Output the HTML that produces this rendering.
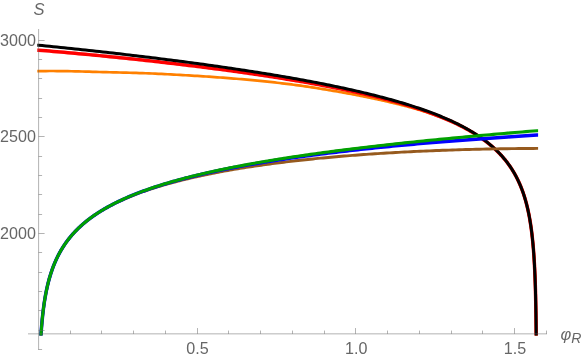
<!DOCTYPE html>
<html><head><meta charset="utf-8"><style>
html,body{margin:0;padding:0;background:#fff;overflow:hidden;}
svg{display:block;will-change:transform;opacity:0.999;position:absolute;left:0;top:0;font-family:"Liberation Sans",sans-serif;}
</style></head><body>
<svg width="581" height="359" viewBox="0 0 581 359">
<defs><clipPath id="c"><rect x="0" y="0" width="581" height="335.6"/></clipPath></defs>
<rect width="581" height="359" fill="#fff"/>
<path d="M37.30,71.09 L38.46,71.09 L42.20,71.06 L45.91,71.03 L49.61,71.02 L53.29,71.02 L56.95,71.04 L60.59,71.06 L64.22,71.10 L67.82,71.16 L71.41,71.23 L74.98,71.31 L78.53,71.40 L82.06,71.49 L85.57,71.59 L89.07,71.69 L92.55,71.79 L96.01,71.89 L99.45,71.99 L102.87,72.09 L106.28,72.17 L109.67,72.26 L113.04,72.34 L116.39,72.42 L119.72,72.50 L123.04,72.58 L126.34,72.67 L129.62,72.75 L132.88,72.84 L136.13,72.94 L139.36,73.04 L142.57,73.15 L145.77,73.26 L148.94,73.38 L152.10,73.51 L155.24,73.65 L158.37,73.79 L161.48,73.94 L164.57,74.09 L167.64,74.25 L170.70,74.41 L173.74,74.57 L176.76,74.74 L179.77,74.91 L182.76,75.08 L185.73,75.25 L188.69,75.43 L191.63,75.61 L194.55,75.78 L197.46,75.96 L200.35,76.15 L203.22,76.33 L206.08,76.51 L208.92,76.70 L211.74,76.89 L214.55,77.08 L217.34,77.28 L220.12,77.48 L222.88,77.68 L225.62,77.89 L228.35,78.10 L231.06,78.31 L233.75,78.53 L236.43,78.75 L239.10,78.98 L241.74,79.20 L244.38,79.44 L246.99,79.67 L249.59,79.91 L252.18,80.16 L254.75,80.40 L257.30,80.65 L259.84,80.90 L262.36,81.15 L264.87,81.40 L267.36,81.66 L269.84,81.92 L272.30,82.18 L274.75,82.45 L277.18,82.73 L279.60,83.00 L282.00,83.29 L284.38,83.57 L286.75,83.86 L289.11,84.16 L291.45,84.46 L293.78,84.76 L296.09,85.07 L298.39,85.38 L300.67,85.70 L302.94,86.03 L305.19,86.36 L307.43,86.69 L309.65,87.02 L311.86,87.36 L314.06,87.70 L316.24,88.04 L318.41,88.38 L320.56,88.73 L322.70,89.07 L324.82,89.42 L326.93,89.77 L329.03,90.12 L331.11,90.47 L333.18,90.82 L335.23,91.17 L337.27,91.53 L339.30,91.88 L341.31,92.23 L343.31,92.59 L345.29,92.94 L347.27,93.30 L349.22,93.66 L351.17,94.03 L353.10,94.39 L355.02,94.76 L356.92,95.13 L358.81,95.49 L360.69,95.86 L362.55,96.23 L364.40,96.61 L366.24,96.98 L368.07,97.36 L369.88,97.73 L371.67,98.11 L373.46,98.49 L375.23,98.87 L376.99,99.25 L378.74,99.63 L380.47,100.01 L382.19,100.39 L383.90,100.78 L385.60,101.17 L387.28,101.55 L388.95,101.94 L390.61,102.33 L392.26,102.72 L393.89,103.11 L395.51,103.50 L397.12,103.89 L398.72,104.29 L400.30,104.69 L401.87,105.09 L403.43,105.49 L404.98,105.89 L406.51,106.30 L408.04,106.71 L409.55,107.12 L411.05,107.53 L412.54,107.95 L414.01,108.37 L415.48,108.79 L416.93,109.21 L418.37,109.64 L419.80,110.07 L421.22,110.51 L422.62,110.95 L424.02,111.38 L425.40,111.82 L426.77,112.27 L428.13,112.71 L429.48,113.16 L430.82,113.61 L432.15,114.06 L433.46,114.52 L434.77,114.98 L436.06,115.44 L437.34,115.91 L438.62,116.38 L439.88,116.85 L441.13,117.33 L442.37,117.81 L443.59,118.29 L444.81,118.78 L446.02,119.27 L447.21,119.76 L448.40,120.26 L449.58,120.76 L450.74,121.26 L451.89,121.77 L453.04,122.28 L454.17,122.80 L455.29,123.31 L456.41,123.83 L457.51,124.36 L458.60,124.89 L459.68,125.42 L460.76,125.95 L461.82,126.49 L462.87,127.03 L463.91,127.57 L464.95,128.12 L465.97,128.67 L466.98,129.22 L467.98,129.78 L468.98,130.34 L469.96,130.90 L470.93,131.47 L471.90,132.04 L472.85,132.61 L473.80,133.18 L474.74,133.76 L475.66,134.34 L476.58,134.93 L477.49,135.52 L478.39,136.11 L479.28,136.70 L480.16,137.30 L481.03,137.90 L481.89,138.50 L482.75,139.11 L483.59,139.72 L484.43,140.33 L485.25,140.95 L486.07,141.57 L486.88,142.19 L487.68,142.82 L488.47,143.45 L489.26,144.09 L490.03,144.72 L490.80,145.36 L491.56,146.01 L492.31,146.66 L493.05,147.31 L493.78,147.97 L494.51,148.63 L495.22,149.29 L495.93,149.96 L496.63,150.63 L497.32,151.30 L498.01,151.98 L498.68,152.67 L499.35,153.35 L500.01,154.04 L500.66,154.74 L501.31,155.44 L501.94,156.14 L502.57,156.85 L503.19,157.57 L503.81,158.28 L504.41,159.01 L505.01,159.73 L505.60,160.46 L506.18,161.20 L506.76,161.94 L507.33,162.69 L507.89,163.44 L508.45,164.19 L508.99,164.95 L509.53,165.72 L510.06,166.49 L510.59,167.26 L511.11,168.04 L511.62,168.83 L512.13,169.62 L512.62,170.42 L513.12,171.22 L513.60,172.03 L514.08,172.84 L514.55,173.66 L515.01,174.48 L515.47,175.31 L515.92,176.15 L516.37,177.00 L516.80,177.84 L517.24,178.70 L517.66,179.56 L518.08,180.43 L518.49,181.31 L518.90,182.19 L519.30,183.08 L519.70,183.97 L520.08,184.87 L520.47,185.78 L520.84,186.70 L521.21,187.62 L521.58,188.56 L521.94,189.49 L522.29,190.44 L522.64,191.39 L522.98,192.36 L523.31,193.33 L523.65,194.31 L523.97,195.29 L524.29,196.29 L524.60,197.29 L524.91,198.30 L525.21,199.33 L525.51,200.36 L525.80,201.40 L526.09,202.45 L526.37,203.51 L526.65,204.57 L526.92,205.65 L527.19,206.74 L527.45,207.84 L527.71,208.95 L527.96,210.07 L528.21,211.20 L528.45,212.35 L528.69,213.50 L528.92,214.66 L529.15,215.84 L529.37,217.03 L529.59,218.23 L529.81,219.45 L530.02,220.67 L530.22,221.91 L530.42,223.17 L530.62,224.44 L530.81,225.72 L531.00,227.01 L531.18,228.32 L531.36,229.65 L531.54,230.99 L531.71,232.35 L531.88,233.72 L532.04,235.11 L532.20,236.51 L532.36,237.94 L532.51,239.38 L532.66,240.83 L532.81,242.31 L532.95,243.81 L533.09,245.32 L533.22,246.86 L533.35,248.42 L533.48,249.99 L533.60,251.59 L533.72,253.22 L533.84,254.86 L533.95,256.53 L534.06,258.22 L534.17,259.94 L534.27,261.68 L534.37,263.46 L534.47,265.25 L534.57,267.08 L534.66,268.94 L534.75,270.82 L534.83,272.74 L534.92,274.69 L535.00,276.67 L535.08,278.69 L535.15,280.74 L535.22,282.83 L535.29,284.96 L535.36,287.12 L535.43,289.33 L535.49,291.59 L535.55,293.88 L535.61,296.23 L535.66,298.62 L535.71,301.06 L535.76,303.55 L535.81,306.10 L535.86,308.71 L535.90,311.37 L535.95,314.10 L535.99,316.90 L536.03,319.76 L536.06,322.70 L536.10,325.71 L536.13,328.80 L536.16,331.98 L536.19,335.25 L536.22,338.61 L536.25,342.07 L536.27,345.64 L536.29,349.32 L536.32,353.12 L536.34,357.06 L536.36,361.13 L536.37,365.34 L536.39,369.72 L536.41,374.27 L536.42,379.00 L536.43,383.94 L536.44,389.09 L536.46,394.49 L536.47,400.00 L536.47,400.00 L536.48,400.00 L536.49,400.00 L536.50,400.00 L536.50,400.00 L536.51,400.00 L536.51,400.00 L536.51,400.00 L536.52,400.00 L536.52,400.00 L536.52,400.00 L536.52,400.00 L536.53,400.00 L536.53,400.00 L536.53,400.00 L536.53,400.00 L536.53,400.00 L536.53,400.00 L536.53,400.00 L536.53,400.00 L536.53,400.00 L536.53,400.00 L536.53,400.00 L536.53,400.00 L536.53,400.00 L536.53,400.00 L536.53,400.00 L536.53,400.00 L536.53,400.00 L536.53,400.00 L536.53,400.00 L536.53,400.00 L536.53,400.00 L536.53,400.00 L536.53,400.00 L536.53,400.00 L536.53,400.00 L536.53,400.00 L536.53,400.00" fill="none" stroke="#ff8000" stroke-width="2.7" stroke-linejoin="round" clip-path="url(#c)"/>
<path d="M37.30,50.19 L38.46,50.19 L42.20,50.49 L45.91,50.80 L49.61,51.11 L53.29,51.42 L56.95,51.73 L60.59,52.04 L64.22,52.36 L67.82,52.68 L71.41,53.00 L74.98,53.32 L78.53,53.65 L82.06,53.98 L85.57,54.30 L89.07,54.63 L92.55,54.97 L96.01,55.30 L99.45,55.63 L102.87,55.97 L106.28,56.30 L109.67,56.64 L113.04,56.98 L116.39,57.32 L119.72,57.66 L123.04,58.01 L126.34,58.35 L129.62,58.69 L132.88,59.04 L136.13,59.38 L139.36,59.73 L142.57,60.08 L145.77,60.43 L148.94,60.78 L152.10,61.13 L155.24,61.48 L158.37,61.83 L161.48,62.19 L164.57,62.54 L167.64,62.89 L170.70,63.25 L173.74,63.61 L176.76,63.96 L179.77,64.32 L182.76,64.68 L185.73,65.04 L188.69,65.39 L191.63,65.75 L194.55,66.12 L197.46,66.48 L200.35,66.84 L203.22,67.20 L206.08,67.56 L208.92,67.93 L211.74,68.29 L214.55,68.66 L217.34,69.02 L220.12,69.39 L222.88,69.76 L225.62,70.12 L228.35,70.49 L231.06,70.86 L233.75,71.23 L236.43,71.60 L239.10,71.97 L241.74,72.34 L244.38,72.72 L246.99,73.09 L249.59,73.46 L252.18,73.84 L254.75,74.21 L257.30,74.59 L259.84,74.96 L262.36,75.34 L264.87,75.72 L267.36,76.10 L269.84,76.48 L272.30,76.86 L274.75,77.24 L277.18,77.62 L279.60,78.00 L282.00,78.38 L284.38,78.77 L286.75,79.15 L289.11,79.54 L291.45,79.92 L293.78,80.31 L296.09,80.70 L298.39,81.08 L300.67,81.47 L302.94,81.86 L305.19,82.26 L307.43,82.65 L309.65,83.04 L311.86,83.43 L314.06,83.83 L316.24,84.22 L318.41,84.62 L320.56,85.02 L322.70,85.42 L324.82,85.82 L326.93,86.22 L329.03,86.62 L331.11,87.02 L333.18,87.42 L335.23,87.83 L337.27,88.23 L339.30,88.64 L341.31,89.05 L343.31,89.46 L345.29,89.87 L347.27,90.28 L349.22,90.69 L351.17,91.10 L353.10,91.52 L355.02,91.93 L356.92,92.35 L358.81,92.77 L360.69,93.19 L362.55,93.61 L364.40,94.03 L366.24,94.45 L368.07,94.87 L369.88,95.30 L371.67,95.73 L373.46,96.15 L375.23,96.58 L376.99,97.01 L378.74,97.44 L380.47,97.88 L382.19,98.31 L383.90,98.75 L385.60,99.19 L387.28,99.62 L388.95,100.06 L390.61,100.51 L392.26,100.95 L393.89,101.39 L395.51,101.84 L397.12,102.29 L398.72,102.74 L400.30,103.19 L401.87,103.64 L403.43,104.09 L404.98,104.55 L406.51,105.01 L408.04,105.46 L409.55,105.92 L411.05,106.39 L412.54,106.85 L414.01,107.32 L415.48,107.78 L416.93,108.25 L418.37,108.72 L419.80,109.19 L421.22,109.67 L422.62,110.14 L424.02,110.62 L425.40,111.10 L426.77,111.58 L428.13,112.07 L429.48,112.55 L430.82,113.04 L432.15,113.53 L433.46,114.02 L434.77,114.51 L436.06,115.01 L437.34,115.51 L438.62,116.00 L439.88,116.51 L441.13,117.01 L442.37,117.51 L443.59,118.02 L444.81,118.53 L446.02,119.04 L447.21,119.56 L448.40,120.07 L449.58,120.59 L450.74,121.11 L451.89,121.64 L453.04,122.16 L454.17,122.69 L455.29,123.22 L456.41,123.75 L457.51,124.29 L458.60,124.83 L459.68,125.37 L460.76,125.91 L461.82,126.45 L462.87,127.00 L463.91,127.55 L464.95,128.10 L465.97,128.66 L466.98,129.22 L467.98,129.78 L468.98,130.34 L469.96,130.91 L470.93,131.47 L471.90,132.05 L472.85,132.62 L473.80,133.20 L474.74,133.78 L475.66,134.36 L476.58,134.95 L477.49,135.54 L478.39,136.13 L479.28,136.72 L480.16,137.32 L481.03,137.92 L481.89,138.52 L482.75,139.13 L483.59,139.74 L484.43,140.36 L485.25,140.97 L486.07,141.59 L486.88,142.22 L487.68,142.84 L488.47,143.48 L489.26,144.11 L490.03,144.75 L490.80,145.39 L491.56,146.03 L492.31,146.68 L493.05,147.33 L493.78,147.99 L494.51,148.65 L495.22,149.31 L495.93,149.98 L496.63,150.65 L497.32,151.32 L498.01,152.00 L498.68,152.68 L499.35,153.37 L500.01,154.06 L500.66,154.76 L501.31,155.46 L501.94,156.16 L502.57,156.87 L503.19,157.58 L503.81,158.30 L504.41,159.02 L505.01,159.74 L505.60,160.47 L506.18,161.21 L506.76,161.95 L507.33,162.69 L507.89,163.44 L508.45,164.20 L508.99,164.95 L509.53,165.72 L510.06,166.49 L510.59,167.26 L511.11,168.04 L511.62,168.83 L512.13,169.62 L512.62,170.41 L513.12,171.21 L513.60,172.02 L514.08,172.83 L514.55,173.65 L515.01,174.48 L515.47,175.31 L515.92,176.14 L516.37,176.99 L516.80,177.83 L517.24,178.69 L517.66,179.55 L518.08,180.42 L518.49,181.29 L518.90,182.17 L519.30,183.06 L519.70,183.96 L520.08,184.86 L520.47,185.77 L520.84,186.68 L521.21,187.60 L521.58,188.54 L521.94,189.47 L522.29,190.42 L522.64,191.37 L522.98,192.33 L523.31,193.30 L523.65,194.28 L523.97,195.27 L524.29,196.26 L524.60,197.27 L524.91,198.28 L525.21,199.30 L525.51,200.33 L525.80,201.37 L526.09,202.42 L526.37,203.48 L526.65,204.55 L526.92,205.62 L527.19,206.71 L527.45,207.81 L527.71,208.92 L527.96,210.04 L528.21,211.17 L528.45,212.31 L528.69,213.47 L528.92,214.63 L529.15,215.81 L529.37,217.00 L529.59,218.20 L529.81,219.41 L530.02,220.64 L530.22,221.88 L530.42,223.13 L530.62,224.40 L530.81,225.68 L531.00,226.98 L531.18,228.29 L531.36,229.61 L531.54,230.95 L531.71,232.31 L531.88,233.68 L532.04,235.07 L532.20,236.47 L532.36,237.90 L532.51,239.34 L532.66,240.80 L532.81,242.27 L532.95,243.77 L533.09,245.28 L533.22,246.82 L533.35,248.38 L533.48,249.96 L533.60,251.55 L533.72,253.18 L533.84,254.82 L533.95,256.49 L534.06,258.18 L534.17,259.90 L534.27,261.64 L534.37,263.42 L534.47,265.21 L534.57,267.04 L534.66,268.89 L534.75,270.78 L534.83,272.70 L534.92,274.65 L535.00,276.63 L535.08,278.65 L535.15,280.70 L535.22,282.79 L535.29,284.92 L535.36,287.08 L535.43,289.29 L535.49,291.54 L535.55,293.84 L535.61,296.18 L535.66,298.58 L535.71,301.02 L535.76,303.51 L535.81,306.06 L535.86,308.67 L535.90,311.33 L535.95,314.06 L535.99,316.86 L536.03,319.72 L536.06,322.66 L536.10,325.67 L536.13,328.76 L536.16,331.94 L536.19,335.21 L536.22,338.57 L536.25,342.03 L536.27,345.60 L536.29,349.28 L536.32,353.08 L536.34,357.01 L536.36,361.08 L536.37,365.30 L536.39,369.68 L536.41,374.23 L536.42,378.96 L536.43,383.90 L536.44,389.05 L536.46,394.45 L536.47,400.00 L536.47,400.00 L536.48,400.00 L536.49,400.00 L536.50,400.00 L536.50,400.00 L536.51,400.00 L536.51,400.00 L536.51,400.00 L536.52,400.00 L536.52,400.00 L536.52,400.00 L536.52,400.00 L536.53,400.00 L536.53,400.00 L536.53,400.00 L536.53,400.00 L536.53,400.00 L536.53,400.00 L536.53,400.00 L536.53,400.00 L536.53,400.00 L536.53,400.00 L536.53,400.00 L536.53,400.00 L536.53,400.00 L536.53,400.00 L536.53,400.00 L536.53,400.00 L536.53,400.00 L536.53,400.00 L536.53,400.00 L536.53,400.00 L536.53,400.00 L536.53,400.00 L536.53,400.00 L536.53,400.00 L536.53,400.00 L536.53,400.00 L536.53,400.00" fill="none" stroke="#ff0000" stroke-width="3.5" stroke-linejoin="round" clip-path="url(#c)"/>
<path d="M37.30,45.19 L38.46,45.19 L42.20,45.56 L45.91,45.93 L49.61,46.30 L53.29,46.67 L56.95,47.04 L60.59,47.42 L64.22,47.79 L67.82,48.16 L71.41,48.54 L74.98,48.91 L78.53,49.29 L82.06,49.67 L85.57,50.04 L89.07,50.42 L92.55,50.80 L96.01,51.18 L99.45,51.56 L102.87,51.94 L106.28,52.32 L109.67,52.70 L113.04,53.08 L116.39,53.47 L119.72,53.85 L123.04,54.23 L126.34,54.62 L129.62,55.00 L132.88,55.39 L136.13,55.77 L139.36,56.16 L142.57,56.54 L145.77,56.93 L148.94,57.32 L152.10,57.70 L155.24,58.09 L158.37,58.48 L161.48,58.87 L164.57,59.26 L167.64,59.65 L170.70,60.04 L173.74,60.43 L176.76,60.82 L179.77,61.21 L182.76,61.60 L185.73,61.99 L188.69,62.38 L191.63,62.78 L194.55,63.17 L197.46,63.56 L200.35,63.95 L203.22,64.35 L206.08,64.74 L208.92,65.14 L211.74,65.53 L214.55,65.93 L217.34,66.32 L220.12,66.72 L222.88,67.12 L225.62,67.52 L228.35,67.91 L231.06,68.31 L233.75,68.71 L236.43,69.11 L239.10,69.51 L241.74,69.91 L244.38,70.31 L246.99,70.71 L249.59,71.11 L252.18,71.51 L254.75,71.91 L257.30,72.32 L259.84,72.72 L262.36,73.12 L264.87,73.53 L267.36,73.93 L269.84,74.34 L272.30,74.74 L274.75,75.15 L277.18,75.56 L279.60,75.96 L282.00,76.37 L284.38,76.78 L286.75,77.19 L289.11,77.60 L291.45,78.01 L293.78,78.42 L296.09,78.83 L298.39,79.24 L300.67,79.66 L302.94,80.07 L305.19,80.49 L307.43,80.90 L309.65,81.32 L311.86,81.73 L314.06,82.15 L316.24,82.57 L318.41,82.99 L320.56,83.40 L322.70,83.82 L324.82,84.25 L326.93,84.67 L329.03,85.09 L331.11,85.51 L333.18,85.94 L335.23,86.36 L337.27,86.79 L339.30,87.21 L341.31,87.64 L343.31,88.07 L345.29,88.50 L347.27,88.93 L349.22,89.36 L351.17,89.79 L353.10,90.23 L355.02,90.66 L356.92,91.09 L358.81,91.53 L360.69,91.97 L362.55,92.41 L364.40,92.84 L366.24,93.28 L368.07,93.73 L369.88,94.17 L371.67,94.61 L373.46,95.06 L375.23,95.50 L376.99,95.95 L378.74,96.40 L380.47,96.85 L382.19,97.30 L383.90,97.75 L385.60,98.20 L387.28,98.66 L388.95,99.11 L390.61,99.57 L392.26,100.03 L393.89,100.48 L395.51,100.95 L397.12,101.41 L398.72,101.87 L400.30,102.34 L401.87,102.80 L403.43,103.27 L404.98,103.74 L406.51,104.21 L408.04,104.68 L409.55,105.15 L411.05,105.63 L412.54,106.11 L414.01,106.58 L415.48,107.06 L416.93,107.55 L418.37,108.03 L419.80,108.51 L421.22,109.00 L422.62,109.49 L424.02,109.98 L425.40,110.47 L426.77,110.96 L428.13,111.45 L429.48,111.95 L430.82,112.45 L432.15,112.95 L433.46,113.45 L434.77,113.95 L436.06,114.46 L437.34,114.97 L438.62,115.48 L439.88,115.99 L441.13,116.50 L442.37,117.02 L443.59,117.53 L444.81,118.05 L446.02,118.57 L447.21,119.10 L448.40,119.62 L449.58,120.15 L450.74,120.68 L451.89,121.21 L453.04,121.75 L454.17,122.28 L455.29,122.82 L456.41,123.36 L457.51,123.91 L458.60,124.45 L459.68,125.00 L460.76,125.55 L461.82,126.10 L462.87,126.66 L463.91,127.21 L464.95,127.77 L465.97,128.34 L466.98,128.90 L467.98,129.47 L468.98,130.04 L469.96,130.61 L470.93,131.19 L471.90,131.76 L472.85,132.35 L473.80,132.93 L474.74,133.52 L475.66,134.10 L476.58,134.70 L477.49,135.29 L478.39,135.89 L479.28,136.49 L480.16,137.09 L481.03,137.70 L481.89,138.31 L482.75,138.92 L483.59,139.54 L484.43,140.16 L485.25,140.78 L486.07,141.40 L486.88,142.03 L487.68,142.67 L488.47,143.30 L489.26,143.94 L490.03,144.58 L490.80,145.23 L491.56,145.88 L492.31,146.53 L493.05,147.18 L493.78,147.84 L494.51,148.51 L495.22,149.17 L495.93,149.85 L496.63,150.52 L497.32,151.20 L498.01,151.88 L498.68,152.57 L499.35,153.26 L500.01,153.95 L500.66,154.65 L501.31,155.35 L501.94,156.06 L502.57,156.77 L503.19,157.49 L503.81,158.21 L504.41,158.93 L505.01,159.66 L505.60,160.39 L506.18,161.13 L506.76,161.87 L507.33,162.62 L507.89,163.37 L508.45,164.13 L508.99,164.89 L509.53,165.66 L510.06,166.43 L510.59,167.21 L511.11,167.99 L511.62,168.78 L512.13,169.57 L512.62,170.37 L513.12,171.17 L513.60,171.98 L514.08,172.80 L514.55,173.62 L515.01,174.44 L515.47,175.27 L515.92,176.11 L516.37,176.96 L516.80,177.81 L517.24,178.66 L517.66,179.53 L518.08,180.40 L518.49,181.27 L518.90,182.15 L519.30,183.04 L519.70,183.94 L520.08,184.84 L520.47,185.75 L520.84,186.67 L521.21,187.60 L521.58,188.53 L521.94,189.47 L522.29,190.41 L522.64,191.37 L522.98,192.33 L523.31,193.30 L523.65,194.28 L523.97,195.27 L524.29,196.27 L524.60,197.27 L524.91,198.28 L525.21,199.30 L525.51,200.34 L525.80,201.38 L526.09,202.43 L526.37,203.49 L526.65,204.55 L526.92,205.63 L527.19,206.72 L527.45,207.82 L527.71,208.93 L527.96,210.05 L528.21,211.18 L528.45,212.33 L528.69,213.48 L528.92,214.65 L529.15,215.83 L529.37,217.01 L529.59,218.22 L529.81,219.43 L530.02,220.66 L530.22,221.90 L530.42,223.15 L530.62,224.42 L530.81,225.70 L531.00,227.00 L531.18,228.31 L531.36,229.63 L531.54,230.97 L531.71,232.33 L531.88,233.70 L532.04,235.09 L532.20,236.50 L532.36,237.92 L532.51,239.36 L532.66,240.82 L532.81,242.30 L532.95,243.80 L533.09,245.31 L533.22,246.85 L533.35,248.40 L533.48,249.98 L533.60,251.58 L533.72,253.20 L533.84,254.85 L533.95,256.52 L534.06,258.21 L534.17,259.93 L534.27,261.67 L534.37,263.44 L534.47,265.24 L534.57,267.07 L534.66,268.92 L534.75,270.81 L534.83,272.73 L534.92,274.68 L535.00,276.66 L535.08,278.68 L535.15,280.73 L535.22,282.82 L535.29,284.95 L535.36,287.11 L535.43,289.32 L535.49,291.57 L535.55,293.87 L535.61,296.21 L535.66,298.61 L535.71,301.05 L535.76,303.54 L535.81,306.09 L535.86,308.70 L535.90,311.36 L535.95,314.09 L535.99,316.89 L536.03,319.75 L536.06,322.69 L536.10,325.70 L536.13,328.79 L536.16,331.97 L536.19,335.24 L536.22,338.60 L536.25,342.06 L536.27,345.63 L536.29,349.31 L536.32,353.11 L536.34,357.05 L536.36,361.12 L536.37,365.33 L536.39,369.71 L536.41,374.26 L536.42,378.99 L536.43,383.93 L536.44,389.08 L536.46,394.48 L536.47,400.00 L536.47,400.00 L536.48,400.00 L536.49,400.00 L536.50,400.00 L536.50,400.00 L536.51,400.00 L536.51,400.00 L536.51,400.00 L536.52,400.00 L536.52,400.00 L536.52,400.00 L536.52,400.00 L536.53,400.00 L536.53,400.00 L536.53,400.00 L536.53,400.00 L536.53,400.00 L536.53,400.00 L536.53,400.00 L536.53,400.00 L536.53,400.00 L536.53,400.00 L536.53,400.00 L536.53,400.00 L536.53,400.00 L536.53,400.00 L536.53,400.00 L536.53,400.00 L536.53,400.00 L536.53,400.00 L536.53,400.00 L536.53,400.00 L536.53,400.00 L536.53,400.00 L536.53,400.00 L536.53,400.00 L536.53,400.00 L536.53,400.00 L536.53,400.00" fill="none" stroke="#000000" stroke-width="3.0" stroke-linejoin="round" clip-path="url(#c)"/>
<path d="M38.46,400.00 L38.46,400.00 L38.46,400.00 L38.46,400.00 L38.46,400.00 L38.46,400.00 L38.46,400.00 L38.46,400.00 L38.46,400.00 L38.46,400.00 L38.46,400.00 L38.46,400.00 L38.46,400.00 L38.46,400.00 L38.46,400.00 L38.46,400.00 L38.46,400.00 L38.46,400.00 L38.46,400.00 L38.46,400.00 L38.46,400.00 L38.46,400.00 L38.46,400.00 L38.46,400.00 L38.46,400.00 L38.46,400.00 L38.46,400.00 L38.46,400.00 L38.47,400.00 L38.47,400.00 L38.47,400.00 L38.47,400.00 L38.48,400.00 L38.48,400.00 L38.49,400.00 L38.49,400.00 L38.50,400.00 L38.51,400.00 L38.51,400.00 L38.52,400.00 L38.53,400.00 L38.54,400.00 L38.56,400.00 L38.57,400.00 L38.58,400.00 L38.60,400.00 L38.61,400.00 L38.63,400.00 L38.65,400.00 L38.67,400.00 L38.69,400.00 L38.72,400.00 L38.74,400.00 L38.77,400.00 L38.80,400.00 L38.83,400.00 L38.86,400.00 L38.89,400.00 L38.93,400.00 L38.96,397.39 L39.00,394.53 L39.04,391.73 L39.08,389.00 L39.13,386.34 L39.18,383.73 L39.22,381.18 L39.27,378.69 L39.33,376.25 L39.38,373.85 L39.44,371.51 L39.50,369.21 L39.56,366.96 L39.63,364.75 L39.70,362.59 L39.77,360.46 L39.84,358.37 L39.91,356.32 L39.99,354.30 L40.07,352.32 L40.16,350.37 L40.24,348.45 L40.33,346.56 L40.42,344.71 L40.52,342.88 L40.62,341.08 L40.72,339.31 L40.82,337.57 L40.93,335.85 L41.04,334.16 L41.15,332.49 L41.27,330.84 L41.39,329.22 L41.51,327.62 L41.64,326.05 L41.77,324.49 L41.91,322.95 L42.04,321.44 L42.18,319.94 L42.33,318.46 L42.48,317.00 L42.63,315.56 L42.79,314.14 L42.95,312.73 L43.11,311.35 L43.28,309.97 L43.45,308.62 L43.63,307.28 L43.81,305.95 L43.99,304.64 L44.18,303.35 L44.37,302.06 L44.57,300.80 L44.77,299.54 L44.98,298.30 L45.19,297.08 L45.40,295.86 L45.62,294.66 L45.85,293.47 L46.08,292.29 L46.31,291.13 L46.55,289.97 L46.79,288.83 L47.04,287.70 L47.29,286.58 L47.55,285.47 L47.81,284.37 L48.08,283.28 L48.35,282.20 L48.62,281.14 L48.91,280.08 L49.19,279.03 L49.49,277.99 L49.79,276.96 L50.09,275.94 L50.40,274.92 L50.71,273.92 L51.03,272.92 L51.36,271.94 L51.69,270.96 L52.02,269.99 L52.36,269.03 L52.71,268.07 L53.07,267.13 L53.42,266.19 L53.79,265.26 L54.16,264.34 L54.54,263.42 L54.92,262.51 L55.31,261.61 L55.70,260.71 L56.11,259.83 L56.51,258.94 L56.93,258.07 L57.35,257.20 L57.77,256.34 L58.20,255.49 L58.64,254.64 L59.09,253.80 L59.54,252.96 L60.00,252.13 L60.46,251.30 L60.93,250.49 L61.41,249.67 L61.90,248.87 L62.39,248.07 L62.89,247.27 L63.39,246.48 L63.90,245.70 L64.42,244.92 L64.95,244.14 L65.48,243.37 L66.02,242.61 L66.57,241.85 L67.13,241.10 L67.69,240.35 L68.26,239.60 L68.83,238.87 L69.42,238.13 L70.01,237.40 L70.61,236.68 L71.22,235.96 L71.83,235.24 L72.45,234.53 L73.08,233.82 L73.72,233.12 L74.36,232.42 L75.02,231.73 L75.68,231.04 L76.35,230.36 L77.02,229.67 L77.71,229.00 L78.40,228.32 L79.10,227.66 L79.81,226.99 L80.53,226.33 L81.25,225.67 L81.98,225.02 L82.73,224.37 L83.48,223.73 L84.23,223.08 L85.00,222.45 L85.78,221.81 L86.56,221.18 L87.35,220.55 L88.16,219.93 L88.97,219.31 L89.79,218.69 L90.61,218.08 L91.45,217.47 L92.30,216.86 L93.15,216.26 L94.01,215.66 L94.89,215.07 L95.77,214.47 L96.66,213.88 L97.56,213.30 L98.47,212.71 L99.39,212.13 L100.31,211.56 L101.25,210.98 L102.20,210.41 L103.15,209.85 L104.12,209.28 L105.09,208.72 L106.08,208.16 L107.07,207.61 L108.08,207.05 L109.09,206.50 L110.12,205.96 L111.15,205.41 L112.19,204.87 L113.25,204.33 L114.31,203.80 L115.38,203.27 L116.47,202.74 L117.56,202.21 L118.66,201.69 L119.78,201.16 L120.90,200.65 L122.03,200.13 L123.18,199.62 L124.34,199.11 L125.50,198.60 L126.68,198.09 L127.86,197.59 L129.06,197.09 L130.27,196.59 L131.49,196.10 L132.72,195.61 L133.96,195.12 L135.21,194.63 L136.47,194.15 L137.74,193.66 L139.03,193.18 L140.32,192.71 L141.63,192.23 L142.94,191.76 L144.27,191.29 L145.61,190.82 L146.96,190.36 L148.32,189.90 L149.70,189.44 L151.08,188.98 L152.48,188.53 L153.89,188.07 L155.31,187.62 L156.74,187.18 L158.18,186.73 L159.63,186.29 L161.10,185.85 L162.58,185.41 L164.07,184.97 L165.57,184.54 L167.08,184.11 L168.61,183.68 L170.14,183.25 L171.69,182.83 L173.25,182.41 L174.83,181.99 L176.41,181.57 L178.01,181.16 L179.62,180.74 L181.24,180.33 L182.88,179.93 L184.52,179.52 L186.18,179.12 L187.86,178.72 L189.54,178.32 L191.24,177.92 L192.95,177.53 L194.67,177.14 L196.41,176.75 L198.16,176.36 L199.92,175.97 L201.69,175.59 L203.48,175.21 L205.28,174.83 L207.09,174.46 L208.92,174.08 L210.76,173.71 L212.61,173.34 L214.48,172.98 L216.36,172.61 L218.25,172.25 L220.15,171.89 L222.07,171.54 L224.01,171.18 L225.95,170.83 L227.91,170.48 L229.89,170.13 L231.87,169.78 L233.87,169.44 L235.89,169.10 L237.92,168.76 L239.96,168.42 L242.02,168.09 L244.09,167.76 L246.17,167.43 L248.27,167.10 L250.38,166.78 L252.51,166.46 L254.65,166.14 L256.80,165.82 L258.97,165.50 L261.15,165.19 L263.35,164.88 L265.56,164.57 L267.79,164.27 L270.03,163.96 L272.29,163.66 L274.56,163.37 L276.84,163.07 L279.14,162.78 L281.45,162.49 L283.78,162.20 L286.13,161.91 L288.49,161.63 L290.86,161.35 L293.25,161.07 L295.65,160.80 L298.07,160.52 L300.50,160.25 L302.95,159.98 L305.42,159.72 L307.90,159.46 L310.39,159.20 L312.90,158.94 L315.43,158.68 L317.97,158.43 L320.53,158.18 L323.10,157.94 L325.69,157.69 L328.29,157.45 L330.91,157.21 L333.54,156.97 L336.19,156.74 L338.86,156.51 L341.54,156.28 L344.24,156.06 L346.95,155.84 L349.68,155.62 L352.43,155.40 L355.19,155.19 L357.97,154.98 L360.76,154.77 L363.57,154.56 L366.40,154.36 L369.25,154.16 L372.10,153.97 L374.98,153.77 L377.87,153.58 L380.78,153.40 L383.71,153.21 L386.65,153.03 L389.61,152.85 L392.59,152.68 L395.58,152.51 L398.59,152.34 L401.61,152.17 L404.66,152.01 L407.72,151.85 L410.79,151.70 L413.89,151.54 L417.00,151.39 L420.13,151.25 L423.27,151.10 L426.44,150.97 L429.62,150.83 L432.81,150.70 L436.03,150.57 L439.26,150.44 L442.51,150.32 L445.78,150.20 L449.06,150.08 L452.37,149.97 L455.69,149.86 L459.02,149.76 L462.38,149.66 L465.75,149.56 L469.14,149.47 L472.55,149.38 L475.98,149.29 L479.43,149.21 L482.89,149.13 L486.37,149.05 L489.87,148.98 L493.39,148.91 L496.92,148.85 L500.48,148.79 L504.05,148.73 L507.64,148.68 L511.25,148.63 L514.88,148.59 L518.52,148.55 L522.19,148.51 L525.87,148.48 L529.57,148.45 L533.29,148.43 L537.03,148.41 L538.10,148.41" fill="none" stroke="#965a1e" stroke-width="2.9" stroke-linejoin="round" clip-path="url(#c)"/>
<path d="M38.46,400.00 L38.46,400.00 L38.46,400.00 L38.46,400.00 L38.46,400.00 L38.46,400.00 L38.46,400.00 L38.46,400.00 L38.46,400.00 L38.46,400.00 L38.46,400.00 L38.46,400.00 L38.46,400.00 L38.46,400.00 L38.46,400.00 L38.46,400.00 L38.46,400.00 L38.46,400.00 L38.46,400.00 L38.46,400.00 L38.46,400.00 L38.46,400.00 L38.46,400.00 L38.46,400.00 L38.46,400.00 L38.46,400.00 L38.46,400.00 L38.46,400.00 L38.47,400.00 L38.47,400.00 L38.47,400.00 L38.47,400.00 L38.48,400.00 L38.48,400.00 L38.49,400.00 L38.49,400.00 L38.50,400.00 L38.51,400.00 L38.51,400.00 L38.52,400.00 L38.53,400.00 L38.54,400.00 L38.56,400.00 L38.57,400.00 L38.58,400.00 L38.60,400.00 L38.61,400.00 L38.63,400.00 L38.65,400.00 L38.67,400.00 L38.69,400.00 L38.72,400.00 L38.74,400.00 L38.77,400.00 L38.80,400.00 L38.83,400.00 L38.86,400.00 L38.89,400.00 L38.93,400.00 L38.96,397.39 L39.00,394.53 L39.04,391.73 L39.08,389.00 L39.13,386.34 L39.18,383.73 L39.22,381.18 L39.27,378.69 L39.33,376.25 L39.38,373.85 L39.44,371.51 L39.50,369.21 L39.56,366.96 L39.63,364.75 L39.70,362.59 L39.77,360.46 L39.84,358.37 L39.91,356.32 L39.99,354.30 L40.07,352.32 L40.16,350.37 L40.24,348.45 L40.33,346.56 L40.42,344.71 L40.52,342.88 L40.62,341.08 L40.72,339.31 L40.82,337.57 L40.93,335.85 L41.04,334.16 L41.15,332.49 L41.27,330.84 L41.39,329.22 L41.51,327.62 L41.64,326.04 L41.77,324.49 L41.91,322.95 L42.04,321.44 L42.18,319.94 L42.33,318.46 L42.48,317.00 L42.63,315.56 L42.79,314.14 L42.95,312.73 L43.11,311.35 L43.28,309.97 L43.45,308.62 L43.63,307.28 L43.81,305.95 L43.99,304.64 L44.18,303.34 L44.37,302.06 L44.57,300.80 L44.77,299.54 L44.98,298.30 L45.19,297.07 L45.40,295.86 L45.62,294.66 L45.85,293.47 L46.08,292.29 L46.31,291.13 L46.55,289.97 L46.79,288.83 L47.04,287.70 L47.29,286.58 L47.55,285.47 L47.81,284.37 L48.08,283.28 L48.35,282.20 L48.62,281.13 L48.91,280.07 L49.19,279.02 L49.49,277.98 L49.79,276.95 L50.09,275.93 L50.40,274.92 L50.71,273.91 L51.03,272.92 L51.36,271.93 L51.69,270.95 L52.02,269.98 L52.36,269.02 L52.71,268.07 L53.07,267.12 L53.42,266.18 L53.79,265.25 L54.16,264.33 L54.54,263.41 L54.92,262.50 L55.31,261.60 L55.70,260.70 L56.11,259.81 L56.51,258.93 L56.93,258.06 L57.35,257.19 L57.77,256.33 L58.20,255.47 L58.64,254.62 L59.09,253.78 L59.54,252.94 L60.00,252.11 L60.46,251.29 L60.93,250.47 L61.41,249.65 L61.90,248.84 L62.39,248.04 L62.89,247.25 L63.39,246.45 L63.90,245.67 L64.42,244.89 L64.95,244.11 L65.48,243.34 L66.02,242.58 L66.57,241.82 L67.13,241.06 L67.69,240.31 L68.26,239.57 L68.83,238.83 L69.42,238.09 L70.01,237.36 L70.61,236.63 L71.22,235.91 L71.83,235.20 L72.45,234.48 L73.08,233.77 L73.72,233.07 L74.36,232.37 L75.02,231.67 L75.68,230.98 L76.35,230.30 L77.02,229.61 L77.71,228.93 L78.40,228.26 L79.10,227.59 L79.81,226.92 L80.53,226.26 L81.25,225.60 L81.98,224.94 L82.73,224.29 L83.48,223.64 L84.23,222.99 L85.00,222.35 L85.78,221.72 L86.56,221.08 L87.35,220.45 L88.16,219.82 L88.97,219.20 L89.79,218.58 L90.61,217.96 L91.45,217.35 L92.30,216.74 L93.15,216.13 L94.01,215.53 L94.89,214.93 L95.77,214.33 L96.66,213.73 L97.56,213.14 L98.47,212.55 L99.39,211.97 L100.31,211.39 L101.25,210.81 L102.20,210.23 L103.15,209.66 L104.12,209.09 L105.09,208.52 L106.08,207.96 L107.07,207.39 L108.08,206.84 L109.09,206.28 L110.12,205.73 L111.15,205.17 L112.19,204.63 L113.25,204.08 L114.31,203.54 L115.38,203.00 L116.47,202.46 L117.56,201.92 L118.66,201.39 L119.78,200.86 L120.90,200.34 L122.03,199.81 L123.18,199.29 L124.34,198.77 L125.50,198.25 L126.68,197.74 L127.86,197.22 L129.06,196.71 L130.27,196.20 L131.49,195.70 L132.72,195.19 L133.96,194.69 L135.21,194.20 L136.47,193.70 L137.74,193.20 L139.03,192.71 L140.32,192.22 L141.63,191.73 L142.94,191.25 L144.27,190.77 L145.61,190.29 L146.96,189.81 L148.32,189.33 L149.70,188.85 L151.08,188.38 L152.48,187.91 L153.89,187.44 L155.31,186.98 L156.74,186.51 L158.18,186.05 L159.63,185.59 L161.10,185.13 L162.58,184.68 L164.07,184.22 L165.57,183.77 L167.08,183.32 L168.61,182.87 L170.14,182.42 L171.69,181.98 L173.25,181.54 L174.83,181.09 L176.41,180.66 L178.01,180.22 L179.62,179.78 L181.24,179.35 L182.88,178.92 L184.52,178.49 L186.18,178.06 L187.86,177.63 L189.54,177.21 L191.24,176.79 L192.95,176.37 L194.67,175.95 L196.41,175.53 L198.16,175.11 L199.92,174.70 L201.69,174.29 L203.48,173.88 L205.28,173.47 L207.09,173.06 L208.92,172.66 L210.76,172.25 L212.61,171.85 L214.48,171.45 L216.36,171.05 L218.25,170.66 L220.15,170.26 L222.07,169.87 L224.01,169.48 L225.95,169.09 L227.91,168.70 L229.89,168.31 L231.87,167.93 L233.87,167.54 L235.89,167.16 L237.92,166.78 L239.96,166.40 L242.02,166.02 L244.09,165.65 L246.17,165.27 L248.27,164.90 L250.38,164.53 L252.51,164.16 L254.65,163.79 L256.80,163.43 L258.97,163.06 L261.15,162.70 L263.35,162.34 L265.56,161.98 L267.79,161.62 L270.03,161.26 L272.29,160.90 L274.56,160.55 L276.84,160.20 L279.14,159.85 L281.45,159.50 L283.78,159.15 L286.13,158.80 L288.49,158.46 L290.86,158.11 L293.25,157.77 L295.65,157.43 L298.07,157.09 L300.50,156.75 L302.95,156.42 L305.42,156.08 L307.90,155.75 L310.39,155.42 L312.90,155.08 L315.43,154.76 L317.97,154.43 L320.53,154.10 L323.10,153.78 L325.69,153.45 L328.29,153.13 L330.91,152.81 L333.54,152.49 L336.19,152.18 L338.86,151.86 L341.54,151.55 L344.24,151.23 L346.95,150.92 L349.68,150.61 L352.43,150.30 L355.19,149.99 L357.97,149.69 L360.76,149.38 L363.57,149.08 L366.40,148.78 L369.25,148.48 L372.10,148.18 L374.98,147.88 L377.87,147.59 L380.78,147.29 L383.71,147.00 L386.65,146.71 L389.61,146.42 L392.59,146.13 L395.58,145.84 L398.59,145.56 L401.61,145.27 L404.66,144.99 L407.72,144.71 L410.79,144.43 L413.89,144.15 L417.00,143.87 L420.13,143.60 L423.27,143.33 L426.44,143.05 L429.62,142.78 L432.81,142.51 L436.03,142.24 L439.26,141.98 L442.51,141.71 L445.78,141.45 L449.06,141.18 L452.37,140.92 L455.69,140.66 L459.02,140.41 L462.38,140.15 L465.75,139.89 L469.14,139.64 L472.55,139.39 L475.98,139.14 L479.43,138.89 L482.89,138.64 L486.37,138.40 L489.87,138.15 L493.39,137.91 L496.92,137.67 L500.48,137.43 L504.05,137.19 L507.64,136.95 L511.25,136.72 L514.88,136.48 L518.52,136.25 L522.19,136.02 L525.87,135.79 L529.57,135.56 L533.29,135.34 L537.03,135.11 L538.10,135.11" fill="none" stroke="#0000ff" stroke-width="3.5" stroke-linejoin="round" clip-path="url(#c)"/>
<path d="M38.46,400.00 L38.46,400.00 L38.46,400.00 L38.46,400.00 L38.46,400.00 L38.46,400.00 L38.46,400.00 L38.46,400.00 L38.46,400.00 L38.46,400.00 L38.46,400.00 L38.46,400.00 L38.46,400.00 L38.46,400.00 L38.46,400.00 L38.46,400.00 L38.46,400.00 L38.46,400.00 L38.46,400.00 L38.46,400.00 L38.46,400.00 L38.46,400.00 L38.46,400.00 L38.46,400.00 L38.46,400.00 L38.46,400.00 L38.46,400.00 L38.46,400.00 L38.47,400.00 L38.47,400.00 L38.47,400.00 L38.47,400.00 L38.48,400.00 L38.48,400.00 L38.49,400.00 L38.49,400.00 L38.50,400.00 L38.51,400.00 L38.51,400.00 L38.52,400.00 L38.53,400.00 L38.54,400.00 L38.56,400.00 L38.57,400.00 L38.58,400.00 L38.60,400.00 L38.61,400.00 L38.63,400.00 L38.65,400.00 L38.67,400.00 L38.69,400.00 L38.72,400.00 L38.74,400.00 L38.77,400.00 L38.80,400.00 L38.83,400.00 L38.86,400.00 L38.89,400.00 L38.93,400.00 L38.96,397.39 L39.00,394.53 L39.04,391.73 L39.08,389.00 L39.13,386.34 L39.18,383.73 L39.22,381.18 L39.27,378.69 L39.33,376.25 L39.38,373.85 L39.44,371.51 L39.50,369.21 L39.56,366.96 L39.63,364.75 L39.70,362.59 L39.77,360.46 L39.84,358.37 L39.91,356.32 L39.99,354.30 L40.07,352.32 L40.16,350.37 L40.24,348.45 L40.33,346.56 L40.42,344.71 L40.52,342.88 L40.62,341.08 L40.72,339.31 L40.82,337.57 L40.93,335.85 L41.04,334.16 L41.15,332.49 L41.27,330.84 L41.39,329.22 L41.51,327.62 L41.64,326.04 L41.77,324.49 L41.91,322.95 L42.04,321.44 L42.18,319.94 L42.33,318.46 L42.48,317.00 L42.63,315.56 L42.79,314.14 L42.95,312.73 L43.11,311.35 L43.28,309.97 L43.45,308.62 L43.63,307.28 L43.81,305.95 L43.99,304.64 L44.18,303.34 L44.37,302.06 L44.57,300.79 L44.77,299.54 L44.98,298.30 L45.19,297.07 L45.40,295.86 L45.62,294.66 L45.85,293.47 L46.08,292.29 L46.31,291.13 L46.55,289.97 L46.79,288.83 L47.04,287.70 L47.29,286.58 L47.55,285.47 L47.81,284.37 L48.08,283.28 L48.35,282.20 L48.62,281.13 L48.91,280.07 L49.19,279.02 L49.49,277.98 L49.79,276.95 L50.09,275.93 L50.40,274.92 L50.71,273.91 L51.03,272.92 L51.36,271.93 L51.69,270.95 L52.02,269.98 L52.36,269.02 L52.71,268.07 L53.07,267.12 L53.42,266.18 L53.79,265.25 L54.16,264.32 L54.54,263.41 L54.92,262.50 L55.31,261.60 L55.70,260.70 L56.11,259.81 L56.51,258.93 L56.93,258.06 L57.35,257.19 L57.77,256.32 L58.20,255.47 L58.64,254.62 L59.09,253.78 L59.54,252.94 L60.00,252.11 L60.46,251.28 L60.93,250.46 L61.41,249.65 L61.90,248.84 L62.39,248.04 L62.89,247.24 L63.39,246.45 L63.90,245.67 L64.42,244.89 L64.95,244.11 L65.48,243.34 L66.02,242.57 L66.57,241.81 L67.13,241.06 L67.69,240.31 L68.26,239.56 L68.83,238.82 L69.42,238.09 L70.01,237.36 L70.61,236.63 L71.22,235.91 L71.83,235.19 L72.45,234.48 L73.08,233.77 L73.72,233.06 L74.36,232.36 L75.02,231.67 L75.68,230.97 L76.35,230.29 L77.02,229.60 L77.71,228.92 L78.40,228.25 L79.10,227.58 L79.81,226.91 L80.53,226.24 L81.25,225.58 L81.98,224.93 L82.73,224.27 L83.48,223.63 L84.23,222.98 L85.00,222.34 L85.78,221.70 L86.56,221.06 L87.35,220.43 L88.16,219.81 L88.97,219.18 L89.79,218.56 L90.61,217.94 L91.45,217.33 L92.30,216.72 L93.15,216.11 L94.01,215.50 L94.89,214.90 L95.77,214.30 L96.66,213.71 L97.56,213.12 L98.47,212.53 L99.39,211.94 L100.31,211.36 L101.25,210.78 L102.20,210.20 L103.15,209.63 L104.12,209.05 L105.09,208.49 L106.08,207.92 L107.07,207.36 L108.08,206.80 L109.09,206.24 L110.12,205.68 L111.15,205.13 L112.19,204.58 L113.25,204.03 L114.31,203.49 L115.38,202.95 L116.47,202.41 L117.56,201.87 L118.66,201.34 L119.78,200.81 L120.90,200.28 L122.03,199.75 L123.18,199.23 L124.34,198.70 L125.50,198.18 L126.68,197.67 L127.86,197.15 L129.06,196.64 L130.27,196.13 L131.49,195.62 L132.72,195.11 L133.96,194.61 L135.21,194.11 L136.47,193.61 L137.74,193.11 L139.03,192.62 L140.32,192.13 L141.63,191.63 L142.94,191.15 L144.27,190.66 L145.61,190.18 L146.96,189.69 L148.32,189.21 L149.70,188.73 L151.08,188.26 L152.48,187.78 L153.89,187.31 L155.31,186.84 L156.74,186.37 L158.18,185.91 L159.63,185.44 L161.10,184.98 L162.58,184.52 L164.07,184.06 L165.57,183.60 L167.08,183.15 L168.61,182.69 L170.14,182.24 L171.69,181.79 L173.25,181.34 L174.83,180.90 L176.41,180.45 L178.01,180.01 L179.62,179.57 L181.24,179.13 L182.88,178.69 L184.52,178.26 L186.18,177.82 L187.86,177.39 L189.54,176.96 L191.24,176.53 L192.95,176.10 L194.67,175.68 L196.41,175.25 L198.16,174.83 L199.92,174.41 L201.69,173.99 L203.48,173.57 L205.28,173.15 L207.09,172.74 L208.92,172.32 L210.76,171.91 L212.61,171.50 L214.48,171.09 L216.36,170.68 L218.25,170.28 L220.15,169.87 L222.07,169.47 L224.01,169.07 L225.95,168.67 L227.91,168.27 L229.89,167.87 L231.87,167.47 L233.87,167.08 L235.89,166.68 L237.92,166.29 L239.96,165.90 L242.02,165.51 L244.09,165.12 L246.17,164.74 L248.27,164.35 L250.38,163.96 L252.51,163.58 L254.65,163.20 L256.80,162.82 L258.97,162.44 L261.15,162.06 L263.35,161.68 L265.56,161.31 L267.79,160.93 L270.03,160.56 L272.29,160.19 L274.56,159.82 L276.84,159.45 L279.14,159.08 L281.45,158.71 L283.78,158.35 L286.13,157.98 L288.49,157.62 L290.86,157.25 L293.25,156.89 L295.65,156.53 L298.07,156.17 L300.50,155.81 L302.95,155.45 L305.42,155.10 L307.90,154.74 L310.39,154.39 L312.90,154.03 L315.43,153.68 L317.97,153.33 L320.53,152.98 L323.10,152.63 L325.69,152.28 L328.29,151.94 L330.91,151.59 L333.54,151.24 L336.19,150.90 L338.86,150.56 L341.54,150.21 L344.24,149.87 L346.95,149.53 L349.68,149.19 L352.43,148.85 L355.19,148.51 L357.97,148.18 L360.76,147.84 L363.57,147.50 L366.40,147.17 L369.25,146.84 L372.10,146.50 L374.98,146.17 L377.87,145.84 L380.78,145.51 L383.71,145.18 L386.65,144.85 L389.61,144.52 L392.59,144.20 L395.58,143.87 L398.59,143.54 L401.61,143.22 L404.66,142.89 L407.72,142.57 L410.79,142.25 L413.89,141.92 L417.00,141.60 L420.13,141.28 L423.27,140.96 L426.44,140.64 L429.62,140.32 L432.81,140.01 L436.03,139.69 L439.26,139.37 L442.51,139.05 L445.78,138.74 L449.06,138.42 L452.37,138.11 L455.69,137.80 L459.02,137.48 L462.38,137.17 L465.75,136.86 L469.14,136.54 L472.55,136.23 L475.98,135.92 L479.43,135.61 L482.89,135.30 L486.37,134.99 L489.87,134.69 L493.39,134.38 L496.92,134.07 L500.48,133.76 L504.05,133.45 L507.64,133.15 L511.25,132.84 L514.88,132.54 L518.52,132.23 L522.19,131.93 L525.87,131.62 L529.57,131.32 L533.29,131.01 L537.03,130.71 L538.10,130.71" fill="none" stroke="#00a000" stroke-width="3.1" stroke-linejoin="round" clip-path="url(#c)"/>
<line x1="28" y1="333.85" x2="547" y2="333.85" stroke="#666666" stroke-width="0.5"/>
<line x1="38.6" y1="29" x2="38.6" y2="350" stroke="#666666" stroke-width="0.5"/>
<line x1="70.50" y1="333.85" x2="70.50" y2="330.55" stroke="#666666" stroke-width="0.5"/>
<line x1="101.50" y1="333.85" x2="101.50" y2="330.55" stroke="#666666" stroke-width="0.5"/>
<line x1="133.50" y1="333.85" x2="133.50" y2="330.55" stroke="#666666" stroke-width="0.5"/>
<line x1="165.50" y1="333.85" x2="165.50" y2="330.55" stroke="#666666" stroke-width="0.5"/>
<line x1="197.50" y1="333.85" x2="197.50" y2="328.05" stroke="#666666" stroke-width="0.5"/>
<line x1="228.50" y1="333.85" x2="228.50" y2="330.55" stroke="#666666" stroke-width="0.5"/>
<line x1="260.50" y1="333.85" x2="260.50" y2="330.55" stroke="#666666" stroke-width="0.5"/>
<line x1="292.50" y1="333.85" x2="292.50" y2="330.55" stroke="#666666" stroke-width="0.5"/>
<line x1="324.50" y1="333.85" x2="324.50" y2="330.55" stroke="#666666" stroke-width="0.5"/>
<line x1="355.50" y1="333.85" x2="355.50" y2="328.05" stroke="#666666" stroke-width="0.5"/>
<line x1="387.50" y1="333.85" x2="387.50" y2="330.55" stroke="#666666" stroke-width="0.5"/>
<line x1="419.50" y1="333.85" x2="419.50" y2="330.55" stroke="#666666" stroke-width="0.5"/>
<line x1="451.50" y1="333.85" x2="451.50" y2="330.55" stroke="#666666" stroke-width="0.5"/>
<line x1="482.50" y1="333.85" x2="482.50" y2="330.55" stroke="#666666" stroke-width="0.5"/>
<line x1="514.50" y1="333.85" x2="514.50" y2="328.05" stroke="#666666" stroke-width="0.5"/>
<line x1="546.50" y1="333.85" x2="546.50" y2="330.55" stroke="#666666" stroke-width="0.5"/>
<line x1="38.6" y1="349.50" x2="42.10" y2="349.50" stroke="#666666" stroke-width="0.5"/>
<line x1="38.6" y1="330.50" x2="44.60" y2="330.50" stroke="#666666" stroke-width="0.5"/>
<line x1="38.6" y1="310.50" x2="42.10" y2="310.50" stroke="#666666" stroke-width="0.5"/>
<line x1="38.6" y1="291.50" x2="42.10" y2="291.50" stroke="#666666" stroke-width="0.5"/>
<line x1="38.6" y1="272.50" x2="42.10" y2="272.50" stroke="#666666" stroke-width="0.5"/>
<line x1="38.6" y1="252.50" x2="42.10" y2="252.50" stroke="#666666" stroke-width="0.5"/>
<line x1="38.6" y1="233.50" x2="44.60" y2="233.50" stroke="#666666" stroke-width="0.5"/>
<line x1="38.6" y1="214.50" x2="42.10" y2="214.50" stroke="#666666" stroke-width="0.5"/>
<line x1="38.6" y1="194.50" x2="42.10" y2="194.50" stroke="#666666" stroke-width="0.5"/>
<line x1="38.6" y1="175.50" x2="42.10" y2="175.50" stroke="#666666" stroke-width="0.5"/>
<line x1="38.6" y1="156.50" x2="42.10" y2="156.50" stroke="#666666" stroke-width="0.5"/>
<line x1="38.6" y1="136.50" x2="44.60" y2="136.50" stroke="#666666" stroke-width="0.5"/>
<line x1="38.6" y1="117.50" x2="42.10" y2="117.50" stroke="#666666" stroke-width="0.5"/>
<line x1="38.6" y1="98.50" x2="42.10" y2="98.50" stroke="#666666" stroke-width="0.5"/>
<line x1="38.6" y1="78.50" x2="42.10" y2="78.50" stroke="#666666" stroke-width="0.5"/>
<line x1="38.6" y1="59.50" x2="42.10" y2="59.50" stroke="#666666" stroke-width="0.5"/>
<line x1="38.6" y1="40.50" x2="44.60" y2="40.50" stroke="#666666" stroke-width="0.5"/>
<text x="197.56" y="353.6" text-anchor="middle" font-size="16.1" fill="#666666">0.5</text>
<text x="356.26" y="353.6" text-anchor="middle" font-size="16.1" fill="#666666">1.0</text>
<text x="514.96" y="353.6" text-anchor="middle" font-size="16.1" fill="#666666">1.5</text>
<text x="35.9" y="239.10" text-anchor="end" font-size="16.1" fill="#666666">2000</text>
<text x="35.9" y="142.45" text-anchor="end" font-size="16.1" fill="#666666">2500</text>
<text x="35.9" y="45.81" text-anchor="end" font-size="16.1" fill="#666666">3000</text>
<text x="33.6" y="15.2" font-size="16.5" font-style="italic" fill="#666666">S</text>
<text x="560.6" y="339.5" font-size="16.5" font-style="italic" fill="#666666">φ<tspan dy="3.4" font-size="14">R</tspan></text>
</svg>
</body></html>
